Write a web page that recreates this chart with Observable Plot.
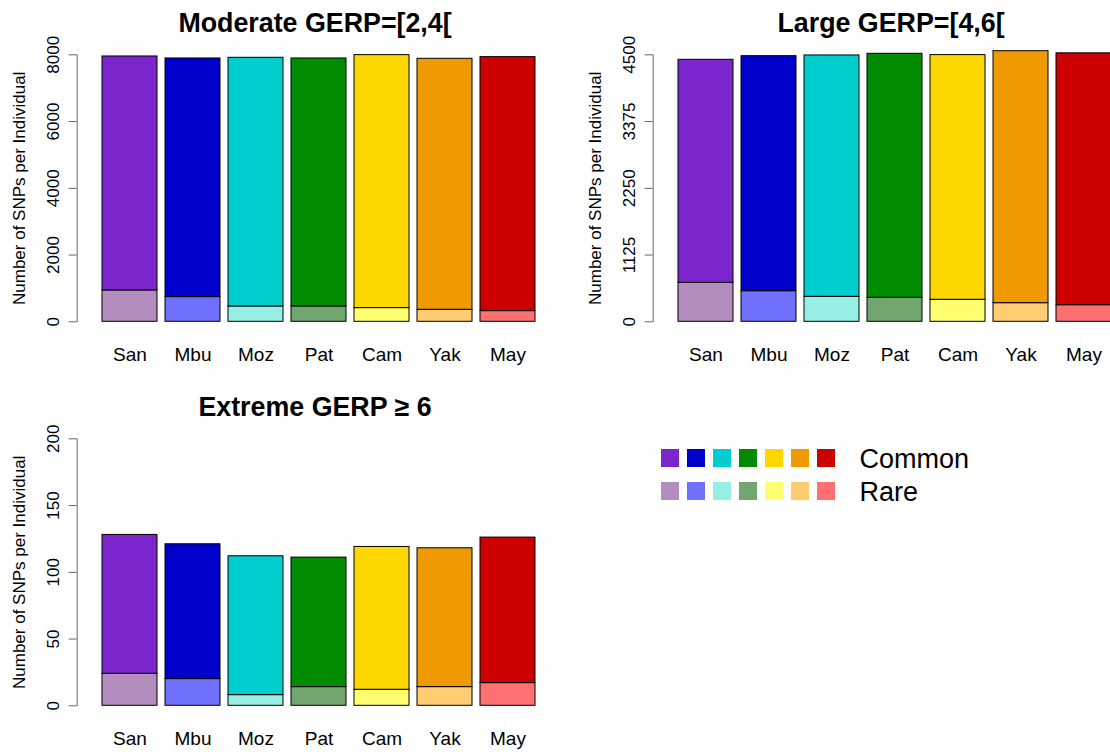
<!DOCTYPE html>
<html>
<head>
<meta charset="utf-8">
<script src="https://cdn.jsdelivr.net/npm/d3@7"></script>
<script src="https://cdn.jsdelivr.net/npm/@observablehq/plot@0.6"></script>
<style>
  body { margin: 0; background: white; }
  #chart { position: relative; width: 1110px; height: 752px; overflow: hidden; background: white; }
  #chart svg { position: absolute; }
</style>
</head>
<body>
<div id="chart"></div>
<script>
/* global d3, Plot */

const pops = ['San', 'Mbu', 'Moz', 'Pat', 'Cam', 'Yak', 'May'];
const types = ['Common', 'Rare'];
const commonColors = ['#7B26CC', '#0000CC', '#00CDCD', '#008B00', '#FFD700', '#EE9A00', '#CC0000'];
const rareColors = ['#B28DBD', '#7070FF', '#97EEE4', '#71A66F', '#FFFF70', '#FFCC70', '#FF7070'];

// SNPs per individual (common stacked on rare)
const moderateRare = [940, 740, 460, 460, 410, 360, 320];
const moderateCommon = [7010, 7150, 7450, 7430, 7580, 7520, 7610];
const largeRare = [657, 516, 421, 404, 371, 314, 280];
const largeCommon = [3759, 3961, 4068, 4113, 4124, 4247, 4245];
const extremeRare = [24, 20, 8, 14, 12, 14, 17];
const extremeCommon = [104, 101, 104, 97, 107, 104, 109];

const moderateTicks = [0, 2000, 4000, 6000, 8000];
const largeTicks = [0, 1125, 2250, 3375, 4500];
const extremeTicks = [0, 50, 100, 150, 200];

const font = 'Liberation Sans, Arial, Helvetica, sans-serif';

function rows(rare, common) {
  // rare first so it sits at the bottom of the stack
  const out = [];
  pops.forEach((p, i) => out.push({ pop: p, type: 'Rare', value: rare[i], color: rareColors[i] }));
  pops.forEach((p, i) => out.push({ pop: p, type: 'Common', value: common[i], color: commonColors[i] }));
  return out;
}

function panel(title, rare, common, ticks, left, top) {
  const svg = Plot.plot({
    width: 576,
    height: 384,
    marginLeft: 76.7,
    marginRight: 15.7,
    marginTop: 54.3,
    marginBottom: 62.7,
    style: { fontFamily: font, fontSize: '17px', color: 'black', background: 'white' },
    x: { domain: pops, paddingInner: 0.127, paddingOuter: 0.4016, round: false, label: null },
    y: { domain: [ticks[0], ticks[ticks.length - 1]], label: null },
    color: { type: 'identity' },
    marks: [
      Plot.barY(rows(rare, common), { x: 'pop', y: 'value', fill: 'color', stroke: 'black', strokeWidth: 1, inset: 0 }),
      Plot.frame({ anchor: 'left', stroke: '#666' }),
      Plot.axisY({ ticks, tickSize: 8, tickFormat: () => '', stroke: '#666', label: null }),
      Plot.text(ticks, { y: d => d, text: d => String(d), frameAnchor: 'left', dx: -18.4, rotate: -90, textAnchor: 'middle', lineAnchor: 'bottom', fontSize: 17 }),
      Plot.text(['Number of SNPs per Individual'], { frameAnchor: 'left', dx: -51.7, rotate: -90, textAnchor: 'middle', lineAnchor: 'bottom', fontSize: 17 }),
      Plot.axisX({ tickSize: 0, tickPadding: 26, fontSize: 19, label: null }),
      Plot.text([title], { frameAnchor: 'top', dx: -4, dy: -23.3, lineAnchor: 'bottom', fontSize: 26.8, fontWeight: 'bold' })
    ]
  });
  svg.style.left = left + 'px';
  svg.style.top = top + 'px';
  document.getElementById('chart').append(svg);
}

panel('Moderate GERP=[2,4[', moderateRare, moderateCommon, moderateTicks, 0, 0);
panel('Large GERP=[4,6[', largeRare, largeCommon, largeTicks, 576, 0);
panel('Extreme GERP \u2265 6', extremeRare, extremeCommon, extremeTicks, 0, 384);

// legend: a row of swatches per frequency class
const legendData = [];
types.forEach(t => pops.forEach((p, i) => legendData.push({ pop: p, type: t, color: t === 'Common' ? commonColors[i] : rareColors[i] })));

const legend = Plot.plot({
  width: 400,
  height: 90,
  marginLeft: 21,
  marginRight: 205,
  marginTop: 19,
  marginBottom: 20,
  style: { fontFamily: font, color: 'black', background: 'transparent' },
  x: { domain: pops, paddingInner: 0.3077, paddingOuter: 0, round: false, axis: null },
  y: { domain: types, paddingInner: 0.4545, paddingOuter: 0, round: false, axis: null },
  color: { type: 'identity' },
  marks: [
    Plot.cell(legendData, { x: 'pop', y: 'type', fill: 'color', inset: 0 }),
    Plot.text(types, { y: d => d, text: d => d, frameAnchor: 'right', dx: 24, dy: 9.5, textAnchor: 'start', lineAnchor: 'bottom', fontSize: 27 })
  ]
});
legend.style.left = '640px';
legend.style.top = '430px';
document.getElementById('chart').append(legend);
</script>
</body>
</html>
